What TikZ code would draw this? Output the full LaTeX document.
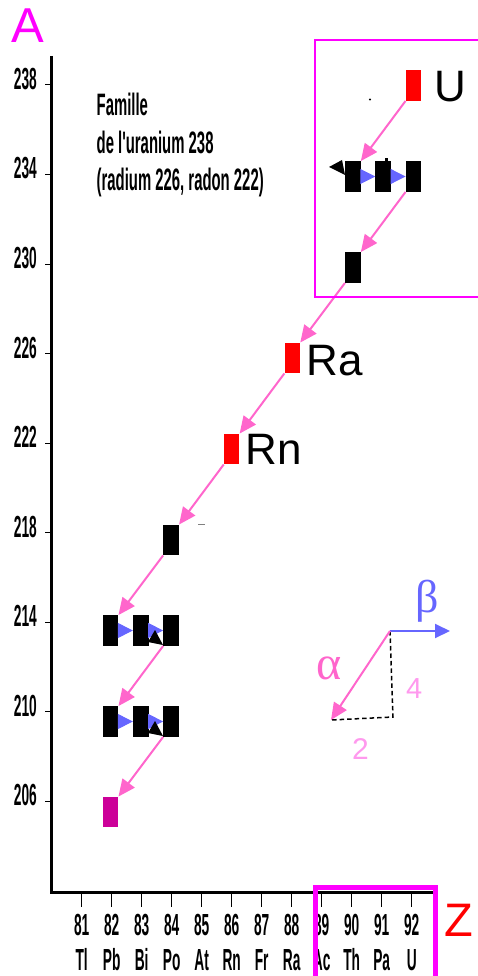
\documentclass[tikz,border=0pt]{standalone}
\usepackage{fontspec}
\usetikzlibrary{arrows.meta}
\setmainfont{Liberation Sans}
\newfontfamily\condfont[FakeStretch=0.45]{Liberation Sans}
\newfontfamily\textcond[FakeStretch=0.48]{Liberation Sans}
\newfontfamily\greekfont{Liberation Serif}
\definecolor{alphapink}{HTML}{FF66CC}
\definecolor{betablue}{HTML}{6666FF}
\definecolor{numpink}{HTML}{FF99EE}
\definecolor{leadpurple}{HTML}{CC0099}
\definecolor{boxmagenta}{HTML}{FF00FF}

\begin{document}
\begin{tikzpicture}[x=1pt,y=-1pt,
  nuc/.style={rectangle, minimum width=15.5pt, minimum height=30.5pt, inner sep=0pt, fill=black},
  alphaarrow/.style={draw=alphapink, line width=2pt, -{Triangle[length=17pt,width=15pt]}},
  betatip/.style={draw=betablue, line width=1pt, -{Triangle[length=15pt,width=15pt]}},
  bigsym/.style={font=\fontsize{44}{44}\selectfont, anchor=base west, inner sep=0pt},
  axislabel/.style={font=\condfont\bfseries\fontsize{30.5}{30.5}\selectfont, inner sep=0pt},
  titleline/.style={font=\textcond\bfseries\fontsize{31}{31}\selectfont, anchor=base west, inner sep=0pt},
  tickline/.style={line width=1pt}]
\useasboundingbox (0,0) rectangle (477,976);

% axes
\draw[line width=2.5pt] (51.5,56) -- (51.5,892);
\draw[line width=3pt] (50,892) -- (433,892);

% mass-number ticks
\foreach \a in {238,234,...,206} {
  \draw[tickline] (45,{85+(238-\a)*22.375}) -- (51.5,{85+(238-\a)*22.375});
  \node[axislabel, anchor=base east] at (37,{89.5+(238-\a)*22.375}) {\a};
}

% atomic-number ticks
\foreach \z/\s [count=\i from 0] in {81/Tl,82/Pb,83/Bi,84/Po,85/At,86/Rn,87/Fr,88/Ra,89/Ac,90/Th,91/Pa,92/U} {
  \draw[tickline] ({81.7+\i*30},893) -- ({81.7+\i*30},907);
  \node[axislabel, anchor=base] at ({81.7+\i*30},935) {\z};
  \node[axislabel, anchor=base] at ({81.7+\i*30},970) {\s};
}

% axis names
\node[font=\fontsize{49}{49}\selectfont, text=boxmagenta, anchor=base west, inner sep=0pt] (alab) at (11.5,43) {A};
\node[font=\fontsize{47}{47}\selectfont, text=red, anchor=base west, inner sep=0pt] (zlab) at (444,936) {Z};

% title
\node[titleline] (title1) at (96.5,115.7) {Famille};
\node[titleline] (title2) at (96.5,153.3) {de l'uranium 238};
\node[titleline] (title3) at (96.5,191) {(radium 226, radon 222)};

% nuclides
\node[nuc, fill=red] (u238) at (413.5,85.5) {};
\node[nuc] (th234) at (352.9,176.5) {};
\node[nuc] (pa234) at (383.2,176.5) {};
\node[nuc] (u234) at (413.5,176.5) {};
\node[nuc] (th230) at (352.9,267.5) {};
\node[nuc, fill=red] (ra226) at (292.3,358) {};
\node[nuc, fill=red] (rn222) at (231.7,449) {};
\node[nuc] (po218) at (171.1,540) {};
\node[nuc] (pb214) at (110.5,630.5) {};
\node[nuc] (bi214) at (140.8,630.5) {};
\node[nuc] (po214) at (171.1,630.5) {};
\node[nuc] (pb210) at (110.5,721.5) {};
\node[nuc] (bi210) at (140.8,721.5) {};
\node[nuc] (po210) at (171.1,721.5) {};
\node[nuc, fill=leadpurple] (pb206) at (110.5,812) {};

% element names
\node[bigsym] (ulabel) at (434.5,102) {U};
\node[bigsym] (ralabel) at (306.5,375) {Ra};
\node[bigsym] (rnlabel) at (245.5,464) {Rn};

% alpha decays
\draw[alphaarrow] (u238.south west) -- (th234.north east);
\draw[alphaarrow] (u234.south west) -- (th230.north east);
\draw[alphaarrow] (th230.south west) -- (ra226.north east);
\draw[alphaarrow] (ra226.south west) -- (rn222.north east);
\draw[alphaarrow] (rn222.south west) -- (po218.north east);
\draw[alphaarrow] (po218.south west) -- (pb214.north east);
\draw[alphaarrow] (po214.south west) -- (pb210.north east);
\draw[alphaarrow] (po210.south west) -- (pb206.north east);

% beta decays
\draw[betatip] (th234.east) -- (pa234.west);
\draw[betatip] (pa234.east) -- (u234.west);
\draw[betatip] (pb214.east) -- (bi214.west);
\draw[betatip] (bi214.east) -- (po214.west);
\draw[betatip] (pb210.east) -- (bi210.west);
\draw[betatip] (bi210.east) -- (po210.west);

% small black heads
\fill (329,167) -- (342,160) -- (345,175) -- cycle;
\fill (155,630) -- (148,642) -- (163,645) -- cycle;
\fill (155,721) -- (148,733) -- (163,736) -- cycle;
\fill (370,99.5) circle (1.2);
\fill (385,158.5) rectangle (388,161);
\draw[gray, line width=1pt] (198,524) -- (205,524);

% legend
\coordinate (lgo) at (390,631);
\coordinate (lgb) at (450,631);
\coordinate (lga) at (331,720);
\coordinate (lgc) at (393,717);
\draw[line width=1.5pt, dash pattern=on 4.5pt off 3pt] (lgo) -- (lgc) -- (lga);
\draw[draw=betablue, line width=2pt, -{Triangle[length=15pt,width=14pt]}] (lgo) -- (lgb);
\draw[alphaarrow] (lgo) -- (lga);
\node[font=\greekfont\fontsize{48}{48}\selectfont, text=alphapink, anchor=base west, inner sep=0pt] (alphalab) at (316,679) {α};
\node[font=\greekfont\fontsize{46}{46}\selectfont, text=betablue, anchor=base west, inner sep=0pt] (betalab) at (415,612) {β};
\node[font=\fontsize{29}{29}\selectfont, text=numpink, anchor=base west, inner sep=0pt] (four) at (406,698) {4};
\node[font=\fontsize{30}{30}\selectfont, text=numpink, anchor=base west, inner sep=0pt] (two) at (352,759) {2};

% highlight boxes
\draw[boxmagenta, line width=2pt] (490,40) -- (315,40) -- (315,297) -- (490,297);
\draw[boxmagenta, line width=5pt] (315.5,990) -- (315.5,887) -- (435.5,887) -- (435.5,990);
\end{tikzpicture}
\end{document}
